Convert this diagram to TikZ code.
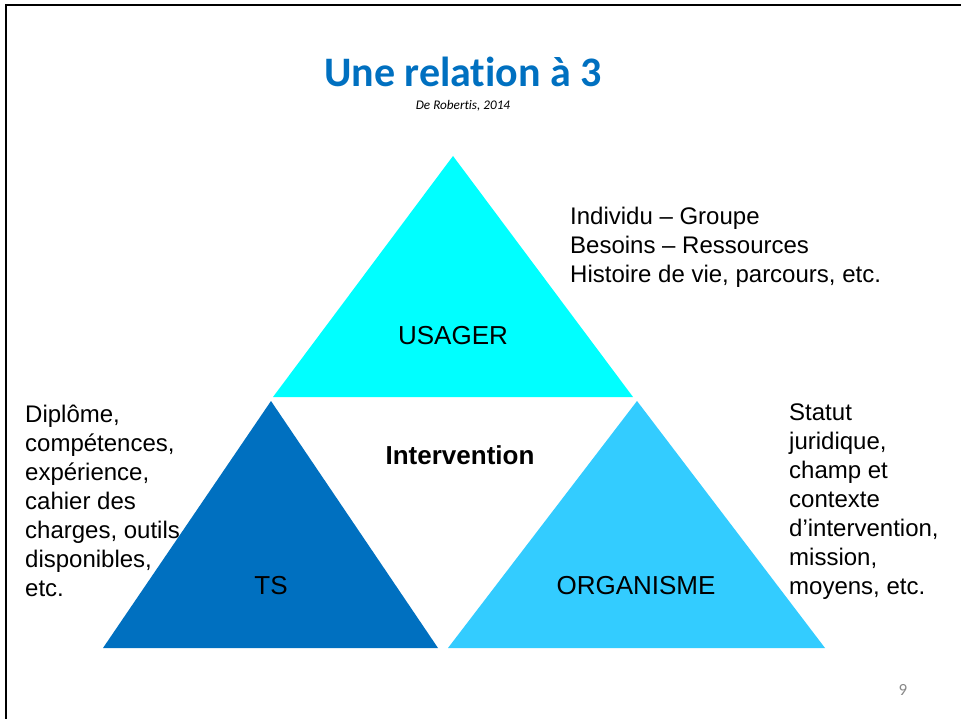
\documentclass[tikz,border=0pt]{standalone}
\usepackage{fontspec}
\setmainfont{Liberation Sans}
\newfontfamily\calib[Ligatures=NoCommon]{Carlito}
\definecolor{tsblue}{HTML}{0070C0}
\definecolor{usagercyan}{HTML}{00FFFF}
\definecolor{orgblue}{HTML}{33CCFF}
\definecolor{pagegray}{HTML}{898989}
\tikzset{
  sidetext/.style={anchor=north west, inner sep=0pt, align=left, font=\fontsize{24}{29}\selectfont},
  label/.style={anchor=base, inner sep=0pt, font=\fontsize{26}{30}\selectfont},
}
\begin{document}
\begin{tikzpicture}[x=1pt,y=-1pt]
\useasboundingbox (0,0) rectangle (961,719);
\fill[white] (0,0) rectangle (961,719);
% slide frame
\draw[line width=2.5pt] (6,719) -- (6,5) -- (961,5);
% triangles
\fill[usagercyan] (453,156) -- (633,397) -- (273,397) -- cycle;
\fill[tsblue] (271,401) -- (438,648) -- (103,648) -- cycle;
\fill[orgblue] (637,401) -- (825,648) -- (448,648) -- cycle;
% title
\node[anchor=base, inner sep=0pt, text=tsblue, font=\calib\bfseries\fontsize{42}{46}\selectfont] (title) at (463,87) {Une relation à 3};
\node[anchor=base, inner sep=0pt, font=\calib\itshape\fontsize{13.2}{15}\selectfont] (source) at (463,110) {De Robertis, 2014};
% labels
\node[label] (usager) at (453,344) {USAGER};
\node[label] (ts) at (271,594) {TS};
\node[label] (org) at (636,594) {ORGANISME};
\node[label, font=\bfseries\fontsize{26}{30}\selectfont] (interv) at (460,464) {Intervention};
% side texts
\node[sidetext] (usagertxt) at (570,207) {Individu – Groupe\\Besoins – Ressources\\Histoire de vie, parcours, etc.};
\node[sidetext] (tstxt) at (25,405) {Diplôme,\\compétences,\\expérience,\\cahier des\\charges, outils\\disponibles,\\etc.};
\node[sidetext] (orgtxt) at (789,404) {Statut\\juridique,\\champ et\\contexte\\d’intervention,\\mission,\\moyens, etc.};
% page number
\node[anchor=base, inner sep=0pt, text=pagegray, font=\calib\fontsize{17}{19}\selectfont] (page) at (903,695) {9};
\end{tikzpicture}
\end{document}
